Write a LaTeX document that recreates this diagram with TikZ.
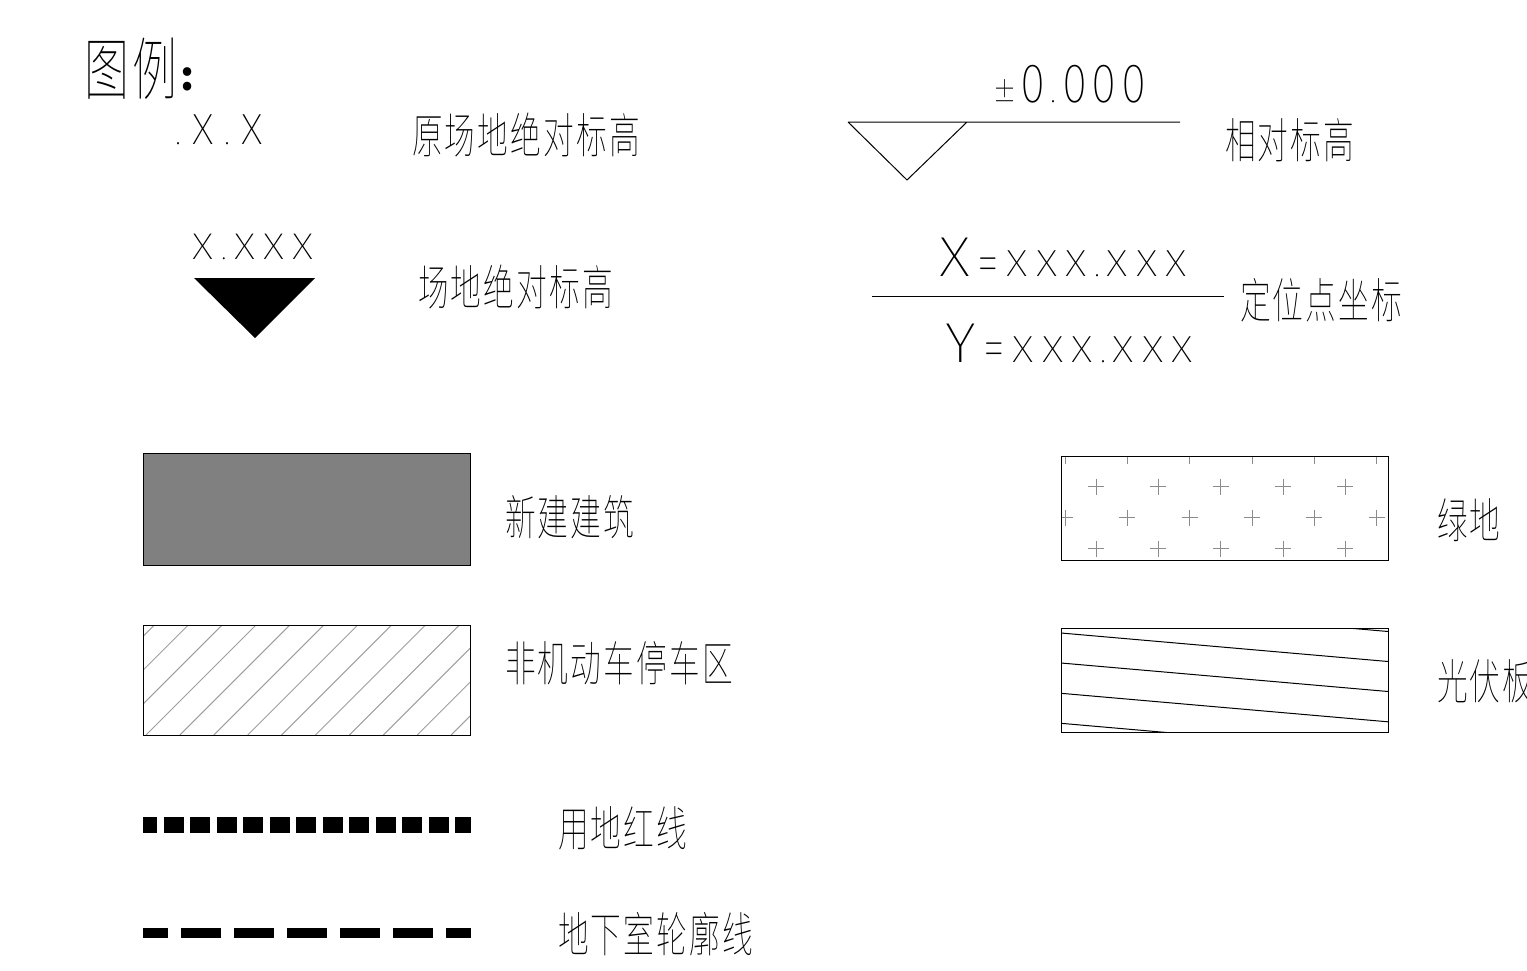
\documentclass[tikz,border=0pt]{standalone}
\usepackage{fontspec}
\usepackage{graphicx}
\newfontfamily\cjk{Noto Sans CJK SC Thin}[LetterSpace=7]
\newfontfamily\cjkt{Noto Sans CJK SC Thin}[LetterSpace=8]
\newfontfamily\cjkr{Noto Sans CJK SC}
\newfontfamily\latn{Noto Sans CJK SC Thin}
\newcommand{\gl}[2]{\makebox[#1pt]{#2}}
\newcommand{\sz}[1]{\fontsize{#1}{#1}\selectfont\latn}
\newcommand{\wx}[1]{\scalebox{1.15}[1]{\sz{#1}X}}
\newcommand{\bigch}[1]{\makebox[26pt]{\scalebox{1.12}[1]{\sz{53}#1}}}
\newcommand{\eqs}{\raisebox{-3.5pt}{\scalebox{.95}[1.3]{\sz{35.5}=}}}
\newcommand{\tailxyz}{\gl{29.5}{\eqs}\gl{29.5}{\wx{35.5}}\gl{29.5}{\wx{35.5}}\gl{29.5}{\wx{35.5}}\gl{11.5}{\sz{26}.}\gl{29.5}{\wx{35.5}}\gl{29.5}{\wx{35.5}}\gl{29.5}{\wx{35.5}}}
\newcommand{\zero}{\gl{29.5}{\scalebox{.85}[1]{\sz{52}0}}}
\tikzset{
  txt/.style={inner sep=0pt,outer sep=0pt,text=black},
  zh/.style={txt,anchor=west,xscale=.64},
  latin/.style={txt,anchor=base west},
  edge/.style={draw=black,line width=1pt},
  thinline/.style={line width=1pt,draw=black},
  hatch/.style={line width=1pt,draw=black!38},
  plusline/.style={line width=1pt,draw=black!45},
  pvline/.style={line width=1pt,draw=black}
}
\newcommand{\zhtxt}[1]{\fontsize{48}{48}\selectfont\cjk #1}
\begin{document}
\begin{tikzpicture}[x=1pt,y=-1pt]
\useasboundingbox (0,0) rectangle (1527,970);
% heading
\node[txt,anchor=west,xscale=.66] (title) at (84,69) {\fontsize{68}{68}\selectfont\cjkt 图例};
\node[txt,anchor=west] (colon) at (180,79) {\fontsize{40}{40}\selectfont\cjkr\bfseries :};
% elevations
\node[latin] (a1) at (167.8,144) {\gl{21}{\sz{26}.}\gl{29}{\sz{41}X}\gl{20.2}{\sz{26}.}\gl{29}{\sz{41}X}};
\node[zh] (b1) at (412,135) {\zhtxt{原场地绝对标高}};
\node[latin] (a2) at (991,102) {\gl{27}{\scalebox{1}[1.25]{\sz{23}±}}\zero\gl{12.5}{\sz{26}.}\zero\zero\zero};
\node[zh] (b2) at (1225,140) {\zhtxt{相对标高}};
\node[latin] (a3) at (188.5,259.5) {\gl{29}{\wx{35}}\gl{13}{\sz{24}.}\gl{29}{\wx{35}}\gl{29}{\wx{35}}\gl{29}{\wx{35}}};
\node[zh] (b3) at (418,287) {\zhtxt{场地绝对标高}};
\node[latin] (a4) at (942,276.5) {\bigch{X}\hspace{5.25pt}\tailxyz};
\node[latin] (a5) at (948,362) {\bigch{Y}\hspace{5.25pt}\tailxyz};
\node[zh] (b4) at (1240,300) {\zhtxt{定位点坐标}};
\node[zh] (b5) at (505,517) {\zhtxt{新建建筑}};
\node[zh] (b6) at (505,663) {\zhtxt{非机动车停车区}};
\node[zh] (b7) at (558,828) {\zhtxt{用地红线}};
\node[zh] (b8) at (558,934) {\zhtxt{地下室轮廓线}};
\node[zh] (b9) at (1437,520) {\zhtxt{绿地}};
\node[zh] (b10) at (1437,681) {\zhtxt{光伏板}};
% symbols
\draw[thinline] (848,122) -- (1180,122) (848,122) -- (907,180) -- (967,122);
\fill[black] (194,278) -- (315,278) -- (255,338) -- cycle;
\draw[thinline] (872,296) -- (1224,296);
% building
\draw[edge,fill=black!50] (143.5,453.5) rectangle (470,565);
% bicycle parking
\begin{scope}
\clip (143.5,625) rectangle (470,735);
\foreach \k in {-3,...,9}
  \draw[hatch] ({146+33.9*\k},735) -- ({146+33.9*\k+115},620);
\end{scope}
\draw[edge] (143.5,625) rectangle (470,735);
% green
\begin{scope}
\clip (1061,456) rectangle (1388,560);
\foreach \r/\y in {0/456,2/517.7}
  \foreach \x in {1065,1127.3,1189.7,1252,1314.3,1376.7}
    \draw[plusline] (\x-8,\y) -- (\x+8,\y) (\x,\y-8) -- (\x,\y+8);
\foreach \y in {486.7,548.7}
  \foreach \x in {1096,1158.3,1220.7,1283,1345.3}
    \draw[plusline] (\x-8,\y) -- (\x+8,\y) (\x,\y-8) -- (\x,\y+8);
\end{scope}
\draw[edge] (1061,456) rectangle (1388,560);
% PV
\begin{scope}
\clip (1061,628) rectangle (1388,732);
\foreach \y in {603,633,663,693.3,723.3}
  \draw[pvline] (1061,\y) -- (1388,\y+28.5);
\end{scope}
\draw[edge] (1061,628) rectangle (1388,732);
% line types
\draw[line width=15.7pt,dash pattern=on 20pt off 6.5pt,dash phase=6pt] (143,825) -- (470.7,825);
\draw[line width=9.4pt,dash pattern=on 40pt off 13pt,dash phase=15pt] (142.7,933) -- (471,933);
\end{tikzpicture}
\end{document}
